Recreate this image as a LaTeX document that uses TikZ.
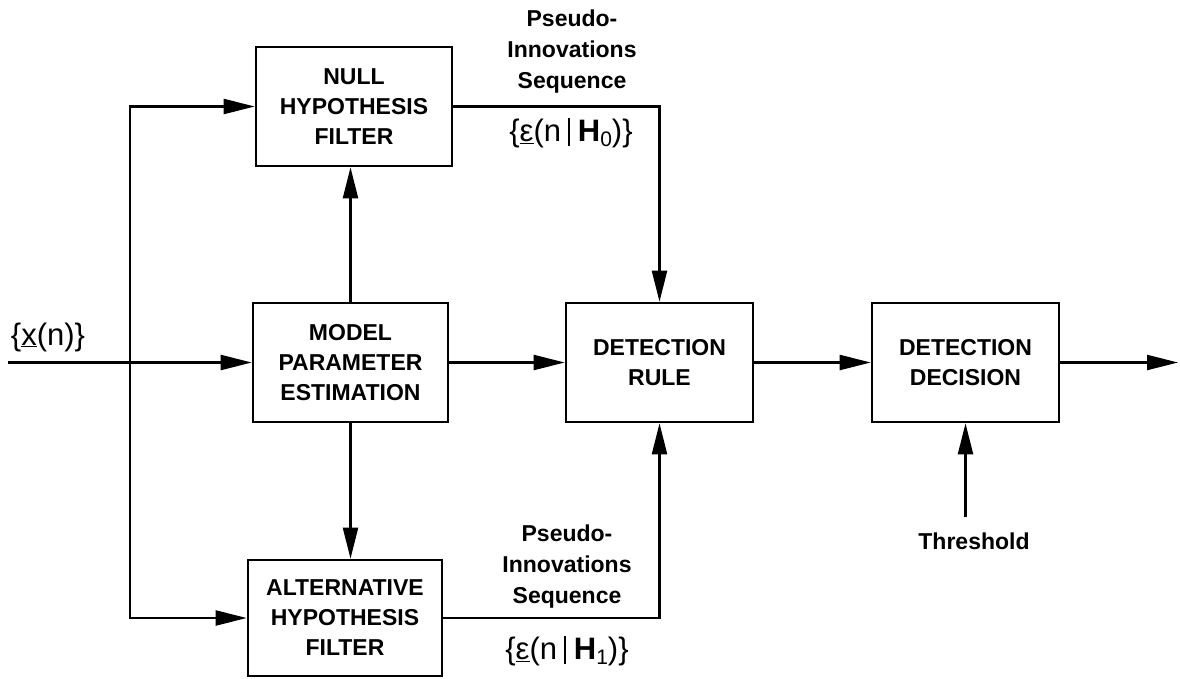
\documentclass[tikz,border=0pt]{standalone}
\usepackage{fontspec}
\setmainfont{Liberation Sans}
\usetikzlibrary{arrows.meta,calc}
\newcommand{\sbar}{\hspace{7pt}\rule[-4pt]{1.8pt}{28pt}\hspace{8pt}}
\newcommand{\hsub}[1]{\textbf{H}\raisebox{-5pt}{\fontsize{21}{21}\selectfont #1}}
\begin{document}
\begin{tikzpicture}[x=1pt,y=-1pt,
  box/.style={draw,line width=2.6pt,align=center,inner sep=0pt,
    font=\bfseries\fontsize{23}{30}\selectfont},
  lbl/.style={align=center,font=\bfseries\fontsize{23}{31}\selectfont},
  frm/.style={inner sep=0pt,font=\fontsize{31}{32}\selectfont},
  conn/.style={line width=2.2pt},
  arr/.style={conn,-{Triangle[length=31pt,width=15pt]}}]
\useasboundingbox (0,0) rectangle (1180,678);

\node[box,minimum width=196pt,minimum height=119pt] (null) at (354,106.5) {NULL\\HYPOTHESIS\\FILTER};
\node[box,minimum width=195pt,minimum height=119pt] (model) at (350.5,362.5) {MODEL\\PARAMETER\\ESTIMATION};
\node[box,minimum width=194pt,minimum height=116pt] (alt) at (345,618) {ALTERNATIVE\\HYPOTHESIS\\FILTER};
\node[box,minimum width=187pt,minimum height=119pt] (rule) at (659.5,362.5) {DETECTION\\RULE};
\node[box,minimum width=187pt,minimum height=119pt] (dec) at (965.5,362.5) {DETECTION\\DECISION};

\node[frm] (x) at (48,337) {\{\underline{x}(n)\}};
\node[lbl] (p0) at (572,52) {Pseudo-\\Innovations\\Sequence};
\node[frm] (e0) at (571,133) {\{\underline{ε}(n\sbar\hsub{0})\}};
\node[lbl] (p1) at (567,567) {Pseudo-\\Innovations\\Sequence};
\node[frm] (e1) at (567,651) {\{\underline{ε}(n\sbar\hsub{1})\}};
\node[lbl] (thr) at (974,541) {Threshold};

\coordinate (in) at (8,362.5);
\coordinate (j) at (130,362.5);
\coordinate (out) at (1178,362.5);
\coordinate (ts) at (965.5,517);

\draw[arr] (in) -- (model.west);
\draw[arr] (j) |- (null.west);
\draw[arr] (j) |- (alt.west);
\draw[arr] (model.north) -- (model.north |- null.south);
\draw[arr] (model.south) -- (model.south |- alt.north);
\draw[arr] (model.east) -- (rule.west);
\draw[arr] (null.east) -| (rule.north);
\draw[arr] (alt.east) -| (rule.south);
\draw[arr] (rule.east) -- (dec.west);
\draw[arr] (dec.east) -- (out);
\draw[arr] (ts) -- (ts |- dec.south);
\end{tikzpicture}
\end{document}
